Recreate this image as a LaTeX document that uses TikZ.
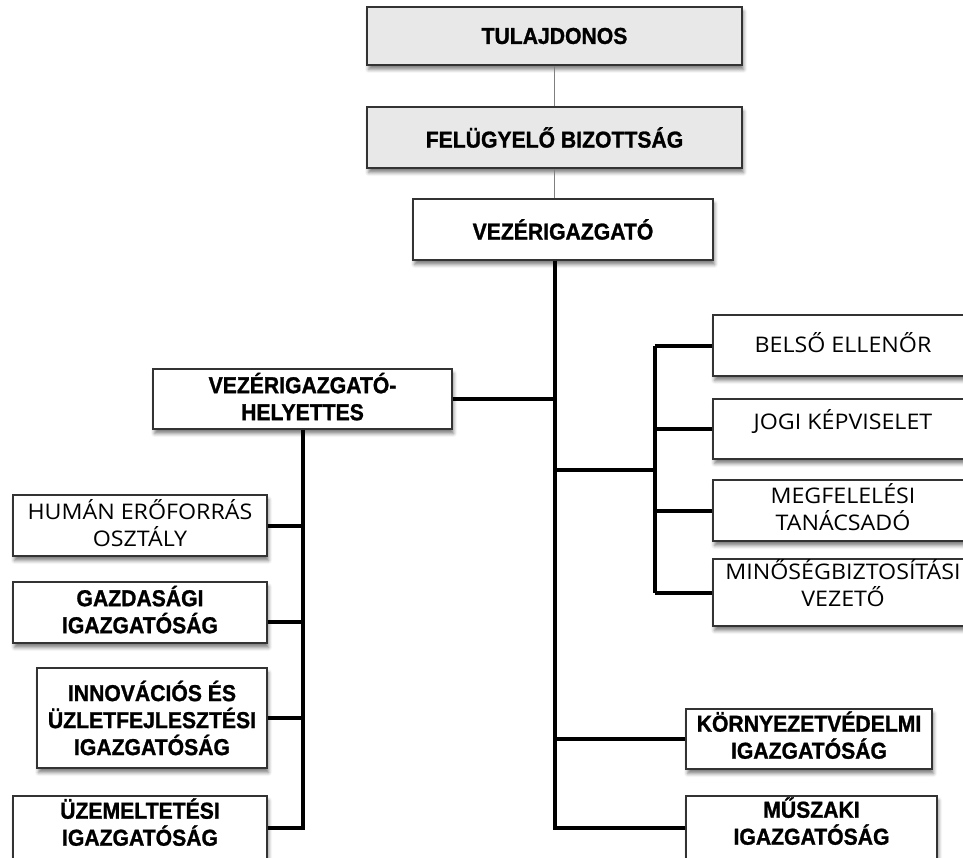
\documentclass[tikz,border=0pt]{standalone}
\usepackage{fontspec}
\setmainfont{Liberation Sans}
\newfontfamily\headfont[FakeStretch=0.92,BoldFeatures={FakeBold=1.2}]{Liberation Sans}
\newfontfamily\regfont[FakeStretch=1.08]{Open Sans}
\usetikzlibrary{shadows.blur}
\definecolor{boxgray}{HTML}{E8E8E8}
\definecolor{edgegray}{HTML}{333333}
\definecolor{linkgray}{HTML}{7F7F7F}
\begin{document}
\begin{tikzpicture}[x=1pt,y=-1pt,
    orgbox/.style={draw=edgegray,line width=1.1pt,fill=white,inner sep=0pt,align=center,
      blur shadow={shadow xshift=1.5pt,shadow yshift=-4.5pt,shadow blur radius=3.5pt,shadow opacity=50}},
    boldtxt/.style={font=\headfont\bfseries\fontsize{23}{27}\selectfont},
    regtxt/.style={font=\regfont\fontsize{21.5}{27}\selectfont},
    textlift/.style={text depth=#1},
    thinlink/.style={draw=linkgray,line width=0.9pt},
    thicklink/.style={draw=black,line width=4pt}]
        \useasboundingbox (0,0) rectangle (963,858);

        % top of the chart
        \node[orgbox,boldtxt,fill=boxgray,minimum width=375pt,minimum height=58pt] (tul) at (554.5,36) {TULAJDONOS};
        \node[orgbox,boldtxt,fill=boxgray,minimum width=375pt,minimum height=61pt] (fb) at (554.5,137.5) {FELÜGYELŐ BIZOTTSÁG};
        \node[orgbox,boldtxt,minimum width=300pt,minimum height=61pt] (vig) at (563,229.5) {VEZÉRIGAZGATÓ};

        % left branch
        \node[orgbox,boldtxt,textlift=5pt,minimum width=299pt,minimum height=60pt] (vh) at (302.5,399) {VEZÉRIGAZGATÓ-\\HELYETTES};
        \node[orgbox,regtxt,textlift=6pt,minimum width=254pt,minimum height=61pt] (hum) at (140,525.5) {HUMÁN ERŐFORRÁS\\OSZTÁLY};
        \node[orgbox,boldtxt,textlift=6pt,minimum width=254pt,minimum height=61pt] (gaz) at (140,612.5) {GAZDASÁGI\\IGAZGATÓSÁG};
        \node[orgbox,boldtxt,minimum width=230pt,minimum height=100pt] (inn) at (152,718) {INNOVÁCIÓS ÉS\\ÜZLETFEJLESZTÉSI\\IGAZGATÓSÁG};
        \node[orgbox,boldtxt,textlift=12pt,minimum width=254pt,minimum height=64pt] (uzem) at (140,828) {ÜZEMELTETÉSI\\IGAZGATÓSÁG};

        % right branch
        \node[orgbox,regtxt,textlift=7pt,minimum width=260pt,minimum height=61pt] (bel) at (843,345.5) {BELSŐ ELLENŐR};
        \node[orgbox,regtxt,textlift=20pt,minimum width=260pt,minimum height=60pt] (jogi) at (843,429) {JOGI KÉPVISELET};
        \node[orgbox,regtxt,textlift=8pt,minimum width=260pt,minimum height=61pt] (megf) at (843,510.5) {MEGFELELÉSI\\TANÁCSADÓ};
        \node[orgbox,regtxt,textlift=20pt,minimum width=260pt,minimum height=61pt] (min) at (843,592.5) {MINŐSÉGBIZTOSÍTÁSI\\VEZETŐ};
        \node[orgbox,boldtxt,textlift=8pt,minimum width=246pt,minimum height=60pt] (kor) at (809,739) {KÖRNYEZETVÉDELMI\\IGAZGATÓSÁG};
        \node[orgbox,boldtxt,textlift=14pt,minimum width=251pt,minimum height=64pt] (musz) at (811.5,828) {MŰSZAKI\\IGAZGATÓSÁG};

        \coordinate (spine) at (vig.south -| tul.south);
        \coordinate (fork) at (655,470);

        % connectors
        \draw[thinlink] (tul) -- (fb);
        \draw[thinlink] (fb.south) -- (fb.south |- vig.north);
        \draw[thicklink] (spine) -- (spine |- musz.west) -- (musz.west);
        \draw[thicklink] (vh.east) -- (vh.east -| spine);
        \draw[thicklink] (spine |- fork) -- (fork);
        \draw[thicklink] (bel.west -| fork) -- (min.west -| fork);
        \foreach \n in {bel,jogi,megf,min}
            \draw[thicklink] (\n.west -| fork) -- (\n.west);
        \draw[thicklink] (spine |- kor.west) -- (kor.west);
        \draw[thicklink] (vh.south) -- (vh.south |- uzem.east) -- (uzem.east);
        \draw[thicklink] (hum.east) -- (hum.east -| vh.south);
        \draw[thicklink] ([yshift=-9pt]gaz.east) -- ([yshift=-9pt]gaz.east -| vh.south);
        \draw[thicklink] (inn.east) -- (inn.east -| vh.south);
\end{tikzpicture}
\end{document}
